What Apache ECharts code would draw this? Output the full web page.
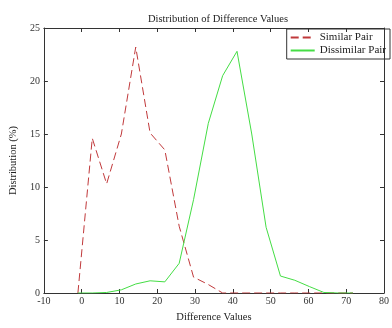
<!DOCTYPE html>
<html>
<head>
<meta charset="utf-8">
<script src="https://cdn.jsdelivr.net/npm/echarts@6/dist/echarts.min.js"></script>
<style>
  html, body { margin: 0; padding: 0; background: #fff; }
  #chart { width: 392px; height: 328px; }
</style>
</head>
<body>
<div id="chart"></div>
<script>
// difference values sampled on the x axis
const diffValues = [-1, 2.8, 6.6, 10.5, 14.3, 18.1, 22.0, 25.8, 29.6, 33.5,
                    37.3, 41.1, 45.0, 48.8, 52.6, 56.4, 60.3, 64.1, 67.9, 71.8];
// distribution (%) per pair type
const similarPair = [0, 14.6, 10.3, 15.0, 23.2, 15.1, 13.5, 6.3, 1.5, 0.8,
                     0, 0, 0, 0, 0, 0, 0, 0, 0, 0];
const dissimilarPair = [0, 0, 0.05, 0.3, 0.85, 1.15, 1.05, 2.8, 8.8, 16.0,
                        20.5, 22.8, 15.0, 6.2, 1.6, 1.2, 0.6, 0.05, 0, 0];

const seriesNames = ['Similar Pair', 'Dissimilar Pair'];

const font = 'Liberation Serif';
const axisColor = '#333';

const zip = (xs, ys) => xs.map((x, i) => [x, ys[i]]);

const chart = echarts.init(document.getElementById('chart'), null, {renderer: 'canvas'});

const tickStyle = { show: true, inside: true, length: 4, lineStyle: { color: axisColor } };
const lineStyle = { show: true, onZero: false, lineStyle: { color: axisColor } };

chart.setOption({
    animation: false,
    backgroundColor: '#fff',
    title: {
        text: 'Distribution of Difference Values',
        left: 213,
        textAlign: 'center',
        top: 9,
        textStyle: { fontFamily: font, fontSize: 10.5, fontWeight: 'normal', color: '#222' }
    },
    legend: {
        data: seriesNames,
        orient: 'vertical',
        right: 2,
        top: 29,
        borderColor: '#333',
        borderWidth: 1,
        borderRadius: 0,
        padding: [3, 4, 3, 3],
        itemGap: 2,
        itemWidth: 24,
        itemHeight: 10,
        itemStyle: { opacity: 0 },
        textStyle: { fontFamily: font, fontSize: 11, color: '#222' }
    },
    grid: { left: 37, top: 28, right: 2, bottom: 30, containLabel: false },
    xAxis: [{
        type: 'value',
        min: -10, max: 80, interval: 10,
        name: 'Difference Values',
        nameLocation: 'middle',
        nameGap: 19,
        nameTextStyle: { fontFamily: font, fontSize: 10.5, color: '#222' },
        axisLine: lineStyle,
        axisTick: tickStyle,
        axisLabel: { fontFamily: font, fontSize: 10, color: '#333', margin: 3 },
        splitLine: { show: false }
    }, {
        type: 'value',
        position: 'top',
        min: -10, max: 80, interval: 10,
        axisLine: lineStyle,
        axisTick: tickStyle,
        axisLabel: { show: false },
        splitLine: { show: false }
    }],
    yAxis: [{
        type: 'value',
        min: 0, max: 25, interval: 5,
        name: 'Distribution (%)',
        nameLocation: 'middle',
        nameGap: 21,
        nameTextStyle: { fontFamily: font, fontSize: 10.5, color: '#222' },
        axisLine: lineStyle,
        axisTick: tickStyle,
        axisLabel: { fontFamily: font, fontSize: 10, color: '#333', margin: 4 },
        splitLine: { show: false }
    }, {
        type: 'value',
        position: 'right',
        min: 0, max: 25, interval: 5,
        axisLine: lineStyle,
        axisTick: tickStyle,
        axisLabel: { show: false },
        splitLine: { show: false }
    }],
    series: [{
        name: seriesNames[0],
        type: 'line',
        data: zip(diffValues, similarPair),
        symbol: 'none',
        lineStyle: { color: '#c0393b', width: 1, type: [8, 4] },
        itemStyle: { color: '#c0393b' }
    }, {
        name: seriesNames[1],
        type: 'line',
        data: zip(diffValues, dissimilarPair),
        symbol: 'none',
        lineStyle: { color: '#44dd44', width: 1 },
        itemStyle: { color: '#44dd44' }
    }]
});
</script>
</body>
</html>
